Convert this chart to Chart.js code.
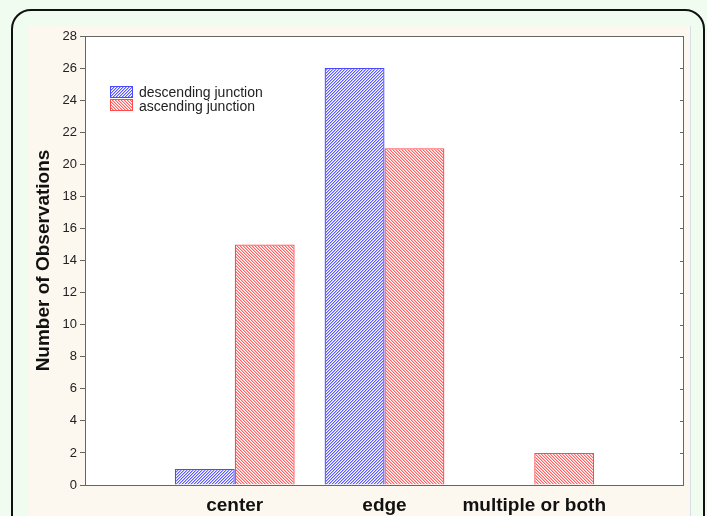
<!DOCTYPE html>
<html>
<head>
<meta charset="utf-8">
<script src="https://cdn.jsdelivr.net/npm/chart.js@4"></script>
<style>
  html, body { margin: 0; padding: 0; }
  body { width: 707px; height: 516px; overflow: hidden; background: #effcef; position: relative; }
  #frame { position: absolute; left: 11px; top: 9px; width: 694px; height: 620px; box-sizing: border-box;
           border: 2px solid #111; border-radius: 20px; }
  #panel { position: absolute; left: 27px; top: 26px; width: 664px; height: 600px; background: #fdf8ef;
           border-right: 1px solid #d8dee8; box-sizing: border-box; }
  #c { position: absolute; left: 0; top: 0; }
</style>
</head>
<body>
<div id="frame"></div>
<div id="panel"></div>
<canvas id="c" width="707" height="516"></canvas>
<script>
const categories = ['center', 'edge', 'multiple or both'];
const descending = [1, 26, 0];
const ascending = [15, 21, 2];
const seriesNames = ['descending junction', 'ascending junction'];
const yTicks = { min: 0, max: 28, step: 2 };

const FONT = "'Liberation Sans', Arial, sans-serif";

function hatch(lineColor, softColor, forward) {
  const n = 3;
  const t = document.createElement('canvas');
  t.width = n; t.height = n;
  const g = t.getContext('2d');
  g.fillStyle = '#ffffff';
  g.fillRect(0, 0, n, n);
  for (let y = 0; y < n; y++) {
    const x0 = forward ? (n - 1 - y) : y;
    g.fillStyle = lineColor;
    g.fillRect(x0, y, 1, 1);
    g.fillStyle = softColor;
    g.fillRect((x0 + 1) % n, y, 1, 1);
  }
  return document.getElementById('c').getContext('2d').createPattern(t, 'repeat');
}

const bluePat = hatch('#5a5aff', '#b4b4ff', true);
const redPat = hatch('#ff6262', '#ffb8b8', false);

// pad categories with empty slots so the category axis spans edge to edge
const labels = ['', ...categories, ''];
const pad = arr => [null, ...arr, null];

const framePlugin = {
  id: 'frameAndLegend',
  beforeDatasetsDraw(chart) {
    const ctx = chart.ctx, a = chart.chartArea;
    ctx.save();
    ctx.fillStyle = '#ffffff';
    ctx.fillRect(a.left, a.top, a.right - a.left, a.bottom - a.top);
    ctx.restore();
  },
  afterDraw(chart) {
    const ctx = chart.ctx;
    const a = chart.chartArea;
    const ys = chart.scales.y;
    ctx.save();
    ctx.strokeStyle = '#666';
    ctx.lineWidth = 1;
    ctx.strokeRect(Math.round(a.left) + 0.5, Math.round(a.top) + 0.5,
                   Math.round(a.right - a.left) - 1, Math.round(a.bottom - a.top));
    // inner ticks on the right side
    ys.ticks.forEach(t => {
      const y = Math.round(ys.getPixelForValue(t.value)) + 0.5;
      ctx.beginPath();
      ctx.moveTo(a.right - 4, y);
      ctx.lineTo(a.right - 1, y);
      ctx.stroke();
    });
    // legend
    const items = chart.data.datasets;
    ctx.font = '14px ' + FONT;
    ctx.textBaseline = 'middle';
    items.forEach((ds, i) => {
      const x = 110, y = 86 + i * 13;
      ctx.fillStyle = ds.backgroundColor;
      ctx.fillRect(x, y, 22, 11);
      ctx.strokeStyle = ds.borderColor;
      ctx.strokeRect(x + 0.5, y + 0.5, 22, 11);
      ctx.fillStyle = '#222';
      ctx.fillText(ds.label, 139, y + 7 + i);
    });
    ctx.restore();
  }
};

new Chart(document.getElementById('c'), {
  type: 'bar',
  data: {
    labels: labels,
    datasets: [
      { label: seriesNames[0], data: pad(descending), backgroundColor: bluePat,
        borderColor: '#4a4aff', borderWidth: 1.3, borderSkipped: 'start', inflateAmount: 0 },
      { label: seriesNames[1], data: pad(ascending), backgroundColor: redPat,
        borderColor: '#ff4a4a', borderWidth: 1.3, borderSkipped: 'start', inflateAmount: 0 }
    ]
  },
  options: {
    responsive: false,
    animation: false,
    events: [],
    categoryPercentage: 0.8,
    barPercentage: 1.0,
    layout: { padding: { left: 27, top: 36, right: 23, bottom: 0 } },
    plugins: { legend: { display: false }, tooltip: { enabled: false } },
    scales: {
      x: {
        offset: false,
        grid: { display: false },
        border: { display: false },
        ticks: { autoSkip: false, maxRotation: 0, padding: 1, color: '#111',
                 font: { family: FONT, size: 19, weight: 'bold' } },
        afterFit(s) { s.height = 31; }
      },
      y: {
        min: yTicks.min, max: yTicks.max,
        grid: { drawOnChartArea: false, drawTicks: true, tickLength: 5, color: '#666' },
        border: { display: false },
        ticks: { stepSize: yTicks.step, padding: 3, color: '#222',
                 font: { family: FONT, size: 13 } },
        title: { display: true, text: 'Number of Observations', color: '#111',
                 padding: { top: 5, bottom: 4 },
                 font: { family: FONT, size: 19, weight: 'bold' } },
        afterFit(s) { s.width = 58; }
      }
    }
  },
  plugins: [framePlugin]
});
</script>
</body>
</html>
